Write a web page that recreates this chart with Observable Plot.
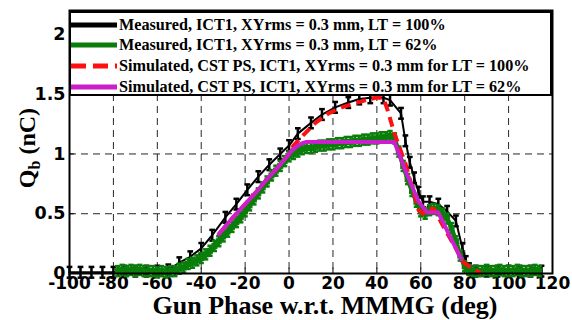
<!DOCTYPE html>
<html><head><meta charset="utf-8">
<script src="https://cdn.jsdelivr.net/npm/d3@7"></script>
<script src="https://cdn.jsdelivr.net/npm/@observablehq/plot@0.6"></script>
<style>
body{margin:0;background:#fff;}
#wrap{position:relative;width:572px;height:320px;overflow:hidden;}
#legend{position:absolute;left:69px;top:11px;width:483px;height:85px;box-sizing:border-box;border:2px solid #000;background:#fff;font-family:"Liberation Serif","Times New Roman",serif;font-weight:bold;font-size:16.2px;color:#000;}
.row{position:absolute;left:0;height:20px;display:flex;align-items:center;white-space:nowrap;}
.row svg{width:46px;height:8px;margin-right:2px;flex:none;}
</style>
</head><body><div id="wrap"><div id="legend"></div></div>
<script>
// ---- data ----
const xTicks = [-100,-80,-60,-40,-20,0,20,40,60,80,100,120];
const xTickLabels = ["-100","-80","-60","-40","-20","0","20","40","60","80","100","120"];
const yTicks = [0,0.5,1,1.5,2];
const yTickLabels = ["0","0.5","1","1.5","2"];

const blackX = [-100,-95,-90,-85,-80,-75,-70,-65,-60,-55,-50,-45,-40,-35,-29,-24,-19,-14,-9,-4,0,4,10,15,21,27,32,37,43,46,51,53,55,57,59,61,64,68,72,76,79,80.5,82,85,90,95,100,105,110,115];
const blackY = [0.01,0.01,0.01,0.01,0.01,0.02,0.02,0.02,0.02,0.03,0.09,0.14,0.21,0.32,0.47,0.58,0.70,0.81,0.91,1.00,1.07,1.17,1.26,1.33,1.39,1.43,1.46,1.47,1.47,1.45,1.34,1.11,0.93,0.80,0.68,0.60,0.60,0.58,0.52,0.44,0.21,0.10,0.04,0.02,0.02,0.02,0.02,0.02,0.02,0.02];

const greenX = [-78,-76,-74,-72,-70,-68,-66,-64,-62,-60,-58,-56,-54,-52,-50,-48,-46,-44,-42,-40,-38,-36,-34,-32,-30,-28,-26,-24,-22,-20,-18,-16,-14,-12,-10,-8,-6,-4,-2,0,2,4,6,8,10,12,14,16,18,20,22,24,26,28,30,32,34,36,38,40,42,44,46,48,50,52,54,56,58,60,62,64,66,68,70,72,74,76,78,80,82,84,86,88,90,92,94,96,98,100,102,104,106,108,110,112,114];
const greenY = [0.02,0.03,0.02,0.03,0.02,0.03,0.02,0.02,0.02,0.01,0.02,0.01,0.02,0.02,0.04,0.05,0.08,0.09,0.11,0.13,0.16,0.19,0.23,0.27,0.31,0.35,0.39,0.43,0.47,0.52,0.57,0.62,0.67,0.72,0.77,0.82,0.86,0.90,0.94,0.98,1.00,1.02,1.04,1.05,1.05,1.06,1.07,1.07,1.08,1.08,1.09,1.09,1.10,1.10,1.11,1.11,1.12,1.12,1.13,1.13,1.14,1.14,1.15,1.13,1.02,0.90,0.79,0.69,0.60,0.52,0.50,0.53,0.54,0.53,0.50,0.46,0.38,0.27,0.15,0.06,0.03,0.02,0.02,0.02,0.03,0.02,0.02,0.03,0.02,0.02,0.02,0.03,0.02,0.02,0.02,0.03,0.02];

const redX = [-31.5,-25,-20,-15,-10,-5,0,2,6.6,12,18,24,29.4,35,39.4,43,45,48,53,56.7,59,61,63,66,71,76,79,83.6,87.5];
const redY = [0.34,0.48,0.58,0.68,0.79,0.89,1.00,1.07,1.16,1.26,1.34,1.39,1.42,1.45,1.47,1.47,1.36,1.17,0.92,0.68,0.53,0.50,0.54,0.54,0.37,0.21,0.10,0.04,0.00];

const magX = [-32,-25,-20,-15,-10,-5,0,2,4,6,8,48,53,59,63,68,73,78.5];
const magY = [0.33,0.48,0.58,0.68,0.79,0.89,1.00,1.04,1.07,1.09,1.10,1.10,0.86,0.60,0.51,0.51,0.32,0.12];

const seriesNames = [
  "Measured, ICT1, XYrms = 0.3 mm, LT = 100%",
  "Measured, ICT1, XYrms = 0.3 mm, LT = 62%",
  "Simulated, CST PS, ICT1, XYrms = 0.3 mm for LT = 100%",
  "Simulated, CST PS, ICT1, XYrms = 0.3 mm for LT = 62%"
];
const colors = ["#000000","#0a7d0a","#ff1010","#cc1fcc"];
const xLabel = "Gun Phase w.r.t. MMMG (deg)";

// ---- build ----
const black = blackX.map((x,i)=>({x, y: blackY[i]}));
const green = greenX.map((x,i)=>({x, y: greenY[i]}));
const red = redX.map((x,i)=>({x, y: redY[i]}));
const mag = magX.map((x,i)=>({x, y: magY[i]}));
const eB = 0.045, eG = 0.042;

const chart = Plot.plot({
  width: 572, height: 320,
  marginLeft: 69, marginRight: 20, marginTop: 10, marginBottom: 47,
  x: {domain: [-100, 120]},
  y: {domain: [0, 2.2]},
  style: {fontFamily: "DejaVu Sans, sans-serif", fontSize: "17px", fontWeight: "bold", color: "#000", background: "#fff"},
  marks: [
    Plot.gridX(xTicks.slice(1, -1), {stroke: "#000", strokeOpacity: 0.85, strokeWidth: 1, strokeDasharray: "7,5"}),
    Plot.gridY(yTicks.slice(1), {stroke: "#000", strokeOpacity: 0.85, strokeWidth: 1, strokeDasharray: "7,5"}),
    Plot.ruleX(xTicks, {y1: 0, y2: 0.045, stroke: "#000", strokeWidth: 1}),
    Plot.ruleY(yTicks, {x1: -100, x2: -97.8, stroke: "#000", strokeWidth: 1}),
    Plot.axisX(xTicks, {tickSize: 0, tickPadding: 3, label: null, tickFormat: (d,i)=>xTickLabels[i], fontWeight: "bold", fontSize: 17}),
    Plot.axisY(yTicks, {tickSize: 0, tickPadding: 4, label: null, tickFormat: (d,i)=>yTickLabels[i], fontWeight: "bold", fontSize: 17.5}),
    // measured LT=100%
    Plot.line(black, {x: "x", y: "y", stroke: colors[0], strokeWidth: 2}),
    Plot.ruleX(black, {x: "x", y1: d=>d.y-eB, y2: d=>d.y+eB, stroke: colors[0], strokeWidth: 2.5}),
    Plot.link(black, {x1: d=>d.x-1.3, x2: d=>d.x+1.3, y1: d=>d.y+eB, y2: d=>d.y+eB, stroke: colors[0], strokeWidth: 2.5}),
    Plot.link(black, {x1: d=>d.x-1.3, x2: d=>d.x+1.3, y1: d=>d.y-eB, y2: d=>d.y-eB, stroke: colors[0], strokeWidth: 2.5}),
    // measured LT=62%
    Plot.line(green, {x: "x", y: "y", stroke: colors[1], strokeWidth: 4.5}),
    Plot.ruleX(green, {x: "x", y1: d=>d.y-eG, y2: d=>d.y+eG, stroke: colors[1], strokeWidth: 2.5}),
    Plot.link(green, {x1: d=>d.x-1.2, x2: d=>d.x+1.2, y1: d=>d.y+eG, y2: d=>d.y+eG, stroke: colors[1], strokeWidth: 2.5}),
    Plot.link(green, {x1: d=>d.x-1.2, x2: d=>d.x+1.2, y1: d=>d.y-eG, y2: d=>d.y-eG, stroke: colors[1], strokeWidth: 2.5}),
    Plot.dot(green, {x: "x", y: "y", symbol: "square", r: 3.4, fill: colors[1], stroke: "none"}),
    // simulated
    Plot.line(red, {x: "x", y: "y", stroke: colors[2], strokeWidth: 4, strokeDasharray: "10,6", strokeLinecap: "butt"}),
    Plot.line(mag, {x: "x", y: "y", stroke: colors[3], strokeWidth: 4}),
    Plot.frame({stroke: "#000", strokeWidth: 2})
  ]
});

const svg = d3.select(chart);
svg.append("text")
  .attr("x", 325).attr("y", 314)
  .attr("text-anchor", "middle")
  .attr("font-family", "Liberation Serif, Times New Roman, serif")
  .attr("font-weight", "bold").attr("font-size", 26)
  .text(xLabel);
const yl = svg.append("text")
  .attr("transform", "translate(35,148) rotate(-90)")
  .attr("text-anchor", "middle")
  .attr("font-family", "Liberation Serif, Times New Roman, serif")
  .attr("font-weight", "bold").attr("font-size", 24);
yl.append("tspan").text("Q");
yl.append("tspan").attr("font-size", 16).attr("dy", 5).text("b");
yl.append("tspan").attr("dy", -5).text(" (nC)");

const wrap = document.getElementById("wrap");
wrap.insertBefore(chart, wrap.firstChild);

// legend
const legend = document.getElementById("legend");
const rowTops = [2, 22, 43, 64];
seriesNames.forEach((name, i) => {
  const row = document.createElement("div");
  row.className = "row";
  row.style.top = rowTops[i] + "px";
  const dash = i === 2 ? 'stroke-dasharray="15,7"' : '';
  row.innerHTML = `<svg viewBox="0 0 46 8"><line x1="0" y1="4" x2="46" y2="4" stroke="${colors[i]}" stroke-width="5" ${dash}/></svg><span>${name}</span>`;
  legend.appendChild(row);
});
</script>
</body></html>
